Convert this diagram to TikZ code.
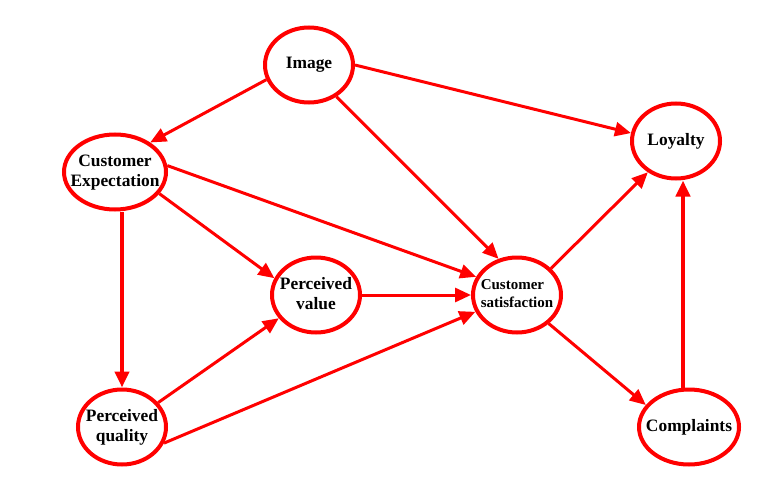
\documentclass[tikz,border=0pt]{standalone}
\usepackage{fontspec}
\setmainfont{Liberation Serif}
\usetikzlibrary{shapes.geometric,arrows.meta}
\newcommand{\twolines}[2]{\makebox[0pt]{\begin{tabular}{@{}c@{}}#1\\#2\end{tabular}}}

\begin{document}
\begin{tikzpicture}[x=1pt, y=-1pt,
		state/.style={ellipse, draw=red, line width=4pt, fill=white, inner sep=0pt,
			minimum height=75pt, font=\fontsize{17.4}{20}\selectfont\bfseries},
		link/.style={draw=red, line width=3pt, -{Triangle[length=16pt, width=14pt]}, red},
		biglink/.style={link, line width=4pt}]
			%%%%% START %%%%%
			
			\useasboundingbox (0, 0) rectangle (778, 492);
			
			\node[state, minimum width=88pt] (img) at (309, 65) {\makebox[0pt]{Image}};
			\node[state, minimum width=102pt] (ce) at (115, 172) {\twolines{Customer}{Expectation}};
			\node[state, minimum width=88pt] (pv) at (316, 295) {\twolines{Perceived}{value}};
			\node[state, minimum width=88pt] (pq) at (122, 427) {\twolines{Perceived}{quality}};
			\node[state, minimum width=88pt, font=\fontsize{15}{18}\selectfont\bfseries] (cs) at (517, 295)
				{\makebox[0pt]{\begin{tabular}{@{}l@{}}Customer\\satisfaction\end{tabular}}};
			\node[state, minimum width=88pt] (loy) at (676, 141) {\makebox[0pt]{Loyalty}};
			\node[state, minimum width=100pt] (cmp) at (689, 427) {\makebox[0pt]{Complaints}};
			
			\draw[link] (img.199) -- (ce.40);
			\draw[link] (img.east) -- (loy.170);
			\draw[link] (img.311) -- (cs.117);
			
			\draw[link] (ce.334) -- (pv.158);
			\draw[link] (ce.7) -- (cs.156);
			\draw[biglink] (ce.south -| pq.north) -- (pq.north);
			
			\draw[link] (pv.east) -- (cs.west);
			\draw[link] (pq.34) -- (pv.212);
			\draw[link] (pq.339) -- (cs.202);
			
			\draw[link] (cs.38) -- (loy.228);
			\draw[link] (cs.318) -- (cmp.153);
			\draw[biglink] ([xshift=-6pt]cmp.north) -- ([xshift=7pt]loy.south);
			
			%%%%% END %%%%%
		\end{tikzpicture}
\end{document}
